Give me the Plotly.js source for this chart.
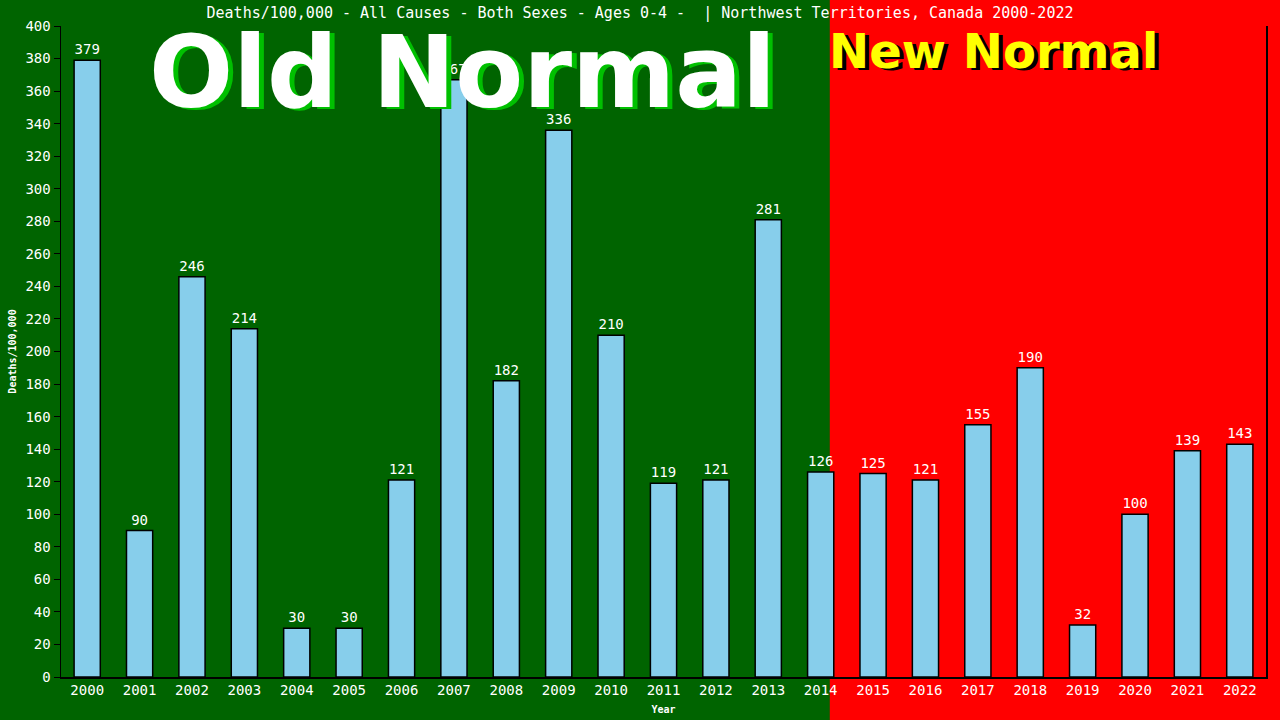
<!DOCTYPE html>
<html>
<head>
<meta charset="utf-8">
<script src="https://cdn.plot.ly/plotly-3.0.1.min.js"></script>
<style>
  html, body { margin: 0; padding: 0; background: #006400; }
  #plot { width: 1280px; height: 720px; }
</style>
</head>
<body>
<div id="plot"></div>
<script>
// ======================= DATA =======================
const years = ['2000','2001','2002','2003','2004','2005','2006','2007','2008','2009','2010','2011',
               '2012','2013','2014','2015','2016','2017','2018','2019','2020','2021','2022'];
const deaths = [379, 90, 246, 214, 30, 30, 121, 367, 182, 336, 210, 119,
                121, 281, 126, 125, 121, 155, 190, 32, 100, 139, 143];
const yTicks = [0,20,40,60,80,100,120,140,160,180,200,220,240,260,280,300,320,340,360,380,400];

const chartTitle = 'Deaths/100,000 - All Causes - Both Sexes - Ages 0-4 -  | Northwest Territories, Canada 2000-2022';

// ======================= PLOT =======================
const mono = 'DejaVu Sans Mono, monospace';

const trace = {
  type: 'bar',
  x: years,
  y: deaths,
  width: 0.5,
  marker: { color: '#87ceeb', line: { color: '#000000', width: 1.5 } },
  text: deaths.map(String),
  textposition: 'outside',
  cliponaxis: false,
  textfont: { family: mono, size: 14, color: '#ffffff' },
  hoverinfo: 'x+y'
};

const layout = {
  width: 1280,
  height: 720,
  paper_bgcolor: '#006400',
  plot_bgcolor: 'rgba(0,0,0,0)',
  margin: { l: 61, r: 14, t: 26, b: 43 },
  showlegend: false,
  title: {
    text: chartTitle,
    font: { family: mono, size: 15, color: '#ffffff' },
    x: 0.5, xanchor: 'center',
    y: 0.982, yanchor: 'middle'
  },
  xaxis: {
    type: 'category',
    showline: true, linecolor: '#000000', linewidth: 1.5,
    ticks: '', showgrid: false,
    tickfont: { family: mono, size: 14, color: '#ffffff' },
    title: { text: 'Year', font: { family: mono, size: 10, color: '#ffffff', weight: 'bold' }, standoff: 8 }
  },
  yaxis: {
    range: [0, 400],
    tickvals: yTicks,
    showline: true, linecolor: '#000000', linewidth: 1.5, mirror: true,
    ticks: 'outside', tickcolor: '#000000', ticklen: 6,
    showgrid: false, zeroline: false,
    tickfont: { family: mono, size: 14, color: '#ffffff' },
    title: { text: 'Deaths/100,000', font: { family: mono, size: 10, color: '#ffffff', weight: 'bold' }, standoff: 7 }
  },
  shapes: [
    { type: 'rect', xref: 'paper', yref: 'paper', x0: 0.638, x1: 1.02, y0: -0.1, y1: 1.1,
      fillcolor: '#ff0000', line: { width: 0 }, layer: 'below' }
  ],
  annotations: [
    { xref: 'paper', yref: 'paper', x: 0.3375, y: 0.926, text: '<b>Old Normal</b>', showarrow: false,
      font: { family: 'DejaVu Sans', size: 99, color: '#00c000' }, xanchor: 'center', yanchor: 'middle' },
    { xref: 'paper', yref: 'paper', x: 0.3335, y: 0.928, text: '<b>Old Normal</b>', showarrow: false,
      font: { family: 'DejaVu Sans', size: 99, color: '#ffffff' }, xanchor: 'center', yanchor: 'middle' },
    { xref: 'paper', yref: 'paper', x: 0.7775, y: 0.959, text: '<b>New Normal</b>', showarrow: false,
      font: { family: 'DejaVu Sans', size: 48, color: '#000000' }, xanchor: 'center', yanchor: 'middle' },
    { xref: 'paper', yref: 'paper', x: 0.774, y: 0.962, text: '<b>New Normal</b>', showarrow: false,
      font: { family: 'DejaVu Sans', size: 48, color: '#ffff00' }, xanchor: 'center', yanchor: 'middle' }
  ]
};

Plotly.newPlot('plot', [trace], layout, { displayModeBar: false, staticPlot: true });
</script>
</body>
</html>
